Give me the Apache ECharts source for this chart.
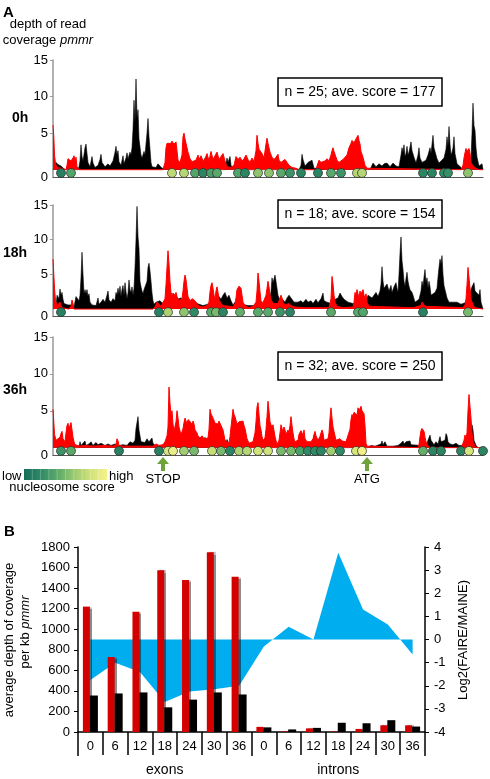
<!DOCTYPE html>
<html><head><meta charset="utf-8">
<script src="https://cdn.jsdelivr.net/npm/echarts@6/dist/echarts.min.js"></script>
<style>html,body{margin:0;padding:0;background:#fff}#c{width:490px;height:779px}</style>
</head><body><div id="c"></div>
<script>
// ---------- Panel A: read coverage tracks (position along locus, depth) ----------
const trackNames = ['0h', '18h', '36h'];
const trackStats = ['n = 25; ave. score = 177', 'n = 18; ave. score = 154', 'n = 32; ave. score = 250'];
const covTicks = [0, 5, 10, 15];

const black0h = [[0,0],[2,0.2],[3,1.0],[5,0.7],[6,0.9],[8,0.5],[10,0.3],[12,0],[25,0],[26,0.4],[27,1.2],[28,3.4],[29,1.8],[30,1.2],[32,3.0],[33,3.5],[34,2.2],[35,1.0],[37,0.4],[39,1.8],[40,0.9],[42,0.3],[45,0.6],[47,1.4],[48,2.1],[49,1.0],[52,0.4],[55,0.8],[57,0.5],[60,1.2],[62,2.4],[63,3.2],[64,2.0],[65,2.6],[66,1.1],[68,0.6],[70,1.9],[71,0.8],[73,1.6],[74,2.3],[75,1.5],[77,2.4],[78,2.0],[79,3.0],[80,5.5],[81,9.5],[82,6.5],[83,12.4],[84,7.0],[85,8.2],[86,4.2],[87,3.1],[88,2.0],[89,1.6],[91,2.5],[92,2.0],[94,5.0],[95,7.0],[96,4.5],[97,2.8],[98,1.0],[99,0.4],[101,0.6],[103,0.3],[105,0.8],[107,0.5],[109,0.2],[111,0],[150,0],[152,1.6],[153,0.4],[155,0],[172,0],[174,1.6],[175,1.0],[177,1.8],[178,0.6],[180,0],[246,0],[248,0.6],[249,2.1],[250,1.4],[252,0.5],[255,1.0],[257,0.9],[259,1.3],[261,0.2],[263,0],[316,0],[318,0.3],[320,0.9],[323,0.4],[326,0.8],[329,0.5],[331,0.8],[334,0.9],[337,0.4],[340,0.9],[343,0.5],[346,0.4],[348,2.0],[349,3.0],[350,2.4],[351,3.4],[352,1.8],[353,2.2],[354,3.2],[355,2.0],[356,2.4],[358,3.8],[359,2.6],[361,1.7],[363,0.9],[365,2.0],[366,3.0],[367,1.6],[369,1.0],[371,0.9],[373,1.3],[375,2.0],[377,3.0],[378,2.2],[380,4.7],[381,3.0],[382,2.5],[384,1.5],[386,0.9],[388,1.2],[390,1.0],[391,1.6],[393,2.8],[394,4.5],[395,3.2],[396,5.9],[397,3.5],[398,2.0],[399,2.4],[400,3.0],[401,4.5],[402,2.2],[404,0.8],[406,0.6],[408,0.3],[410,0],[417,0],[418,1.5],[419,5.0],[420,9.1],[421,6.0],[422,5.4],[423,3.0],[424,1.7],[426,0.5],[428,0.7],[429,0.8],[430,0]];
const red0h = [[0,6.1],[0.8,4.5],[1.5,2.0],[2.5,0.8],[4,0.3],[6,0.4],[9,0.2],[13,0],[14,0.6],[15,1.5],[17,1.7],[18,1.2],[20,1.6],[21,1.9],[22,1.2],[23,1.7],[24,0.4],[26,0],[110,0],[112,1.0],[113,3.0],[114,3.6],[116,3.8],[118,3.6],[119,3.9],[121,3.5],[123,3.8],[124,2.6],[125,1.3],[127,1.0],[129,2.0],[130,4.5],[131,5.0],[132,4.2],[133,3.6],[134,3.8],[135,2.4],[137,1.5],[139,1.1],[141,0.9],[143,1.3],[145,2.0],[146,1.4],[148,1.9],[150,1.2],[152,1.5],[154,2.2],[156,1.2],[158,2.5],[160,1.4],[162,1.9],[164,2.4],[166,1.4],[168,1.8],[170,2.2],[172,1.2],[174,0.4],[178,0.3],[181,0.6],[183,1.8],[185,1.4],[187,1.7],[189,1.2],[191,1.5],[193,2.0],[195,1.4],[197,1.0],[199,1.6],[201,1.1],[203,2.6],[204,4.7],[205,3.6],[206,2.8],[208,2.6],[209,2.2],[211,1.6],[213,3.5],[214,4.3],[215,3.6],[217,2.4],[219,1.7],[221,1.4],[223,1.7],[225,2.1],[226,1.3],[228,1.0],[230,1.2],[232,1.4],[234,1.0],[236,0.6],[239,0.3],[243,0.2],[246,0],[263,0],[264,0.5],[266,1.3],[268,1.0],[270,0.8],[272,1.2],[274,1.5],[276,1.2],[278,2.0],[279,2.6],[280,3.0],[281,2.5],[282,2.1],[284,1.3],[286,1.0],[288,1.2],[290,1.4],[292,1.2],[294,2.0],[296,3.0],[298,3.6],[299,4.0],[300,4.1],[301,3.7],[303,4.2],[305,4.7],[306,4.0],[307,3.5],[308,2.5],[310,1.7],[312,0.6],[314,0.2],[316,0],[408,0],[410,0.6],[411,1.6],[412,2.3],[413,2.9],[414,2.5],[416,2.9],[417,2.2],[418,1.0],[420,0.5],[423,0.2],[426,0],[430,0]];

const black18h = [[0,0],[3,0.3],[4,2.0],[5,2.2],[6,1.5],[7,2.9],[8,2.0],[9,2.4],[10,1.4],[11,0.8],[13,0.9],[15,0.6],[17,0.8],[19,0.6],[21,0.3],[23,1.8],[24,2.0],[26,1.2],[27,2.0],[28,4.5],[29,8.2],[30,5.0],[31,2.2],[32,2.8],[33,2.2],[34,2.8],[35,1.8],[36,2.2],[37,1.0],[39,0.6],[41,0.7],[43,0.5],[45,1.6],[46,0.7],[48,1.0],[50,1.4],[52,1.0],[54,2.0],[55,2.6],[56,1.3],[58,1.0],[60,1.5],[62,1.2],[63,2.4],[64,2.0],[65,3.0],[66,2.2],[67,3.3],[68,1.8],[69,2.8],[70,3.4],[71,2.0],[72,3.8],[73,2.5],[74,1.5],[75,2.3],[76,4.2],[77,2.8],[78,2.4],[79,3.2],[80,2.0],[81,3.0],[82,6.0],[83,10.0],[84,14.8],[85,10.5],[86,8.7],[87,4.0],[88,3.2],[89,2.6],[90,2.2],[91,2.8],[92,2.6],[93,3.0],[94,4.0],[95,6.0],[96,6.6],[97,5.5],[98,4.0],[99,2.3],[100,1.2],[101,0.7],[103,1.0],[105,0.8],[107,1.2],[109,0.9],[111,1.1],[113,0.7],[115,0.9],[120,1.4],[122,1.0],[124,1.4],[126,1.2],[128,1.6],[130,1.3],[132,1.0],[134,1.2],[136,0.8],[138,1.0],[140,1.2],[142,0.9],[144,1.1],[146,0.7],[148,0.9],[150,0.5],[152,0.4],[155,0.7],[157,0.5],[160,0.8],[162,1.4],[164,1.0],[166,1.8],[168,1.4],[170,2.0],[172,2.4],[174,1.6],[176,2.0],[178,1.2],[180,0.6],[182,1.0],[184,0.7],[186,0.9],[188,0.6],[190,0.8],[192,0.6],[195,0.5],[200,0.5],[202,0.7],[205,0.6],[208,0.8],[212,0.6],[216,1.0],[218,2.5],[219,4.5],[220,3.8],[222,4.9],[223,4.0],[224,3.0],[225,2.0],[227,1.2],[229,1.5],[232,1.0],[234,1.6],[236,2.0],[237,2.1],[239,1.4],[241,1.0],[243,0.8],[245,1.0],[248,1.2],[250,0.9],[253,1.4],[255,1.0],[258,1.2],[260,0.8],[263,1.4],[265,0.9],[268,1.5],[270,2.3],[271,1.2],[274,1.0],[278,0.8],[282,1.4],[285,1.6],[287,2.3],[289,1.8],[291,1.4],[293,1.6],[295,1.0],[297,0.8],[300,0.8],[302,1.0],[305,0.8],[309,0.8],[312,0.5],[314,0.6],[315,2.0],[317,2.2],[319,1.6],[321,2.0],[323,2.4],[325,1.8],[327,2.6],[328,3.6],[329,6.1],[330,4.0],[331,3.0],[332,3.2],[334,3.6],[336,2.6],[338,3.4],[339,2.4],[341,3.2],[343,3.8],[344,3.0],[345,2.4],[346,5.0],[347,8.0],[348,10.4],[349,7.0],[350,5.7],[351,4.0],[352,3.3],[353,4.4],[354,5.3],[355,4.0],[356,3.3],[357,2.8],[358,3.0],[359,2.4],[360,2.0],[362,1.0],[364,0.8],[366,1.4],[368,2.6],[369,4.0],[370,3.2],[371,4.6],[372,5.7],[373,3.8],[374,4.5],[375,3.0],[376,4.0],[377,3.2],[378,2.0],[380,1.8],[382,2.4],[384,3.0],[385,4.6],[386,6.0],[387,7.2],[388,6.5],[389,7.7],[390,5.0],[391,3.4],[392,2.8],[394,1.6],[396,1.0],[398,0.8],[400,1.0],[402,0.9],[404,1.0],[406,0.8],[408,0.7],[410,0.8],[412,0.9],[414,1.2],[416,2.0],[418,2.8],[419,3.2],[421,3.8],[422,2.6],[424,2.8],[426,2.0],[427,2.8],[428,1.0],[430,0]];
const red18h = [[0,7.2],[0.8,5.0],[1.5,3.0],[2.5,1.2],[4,0.5],[6,0.4],[7,1.0],[8,0.6],[9,0.2],[16,0],[18,0.4],[19,1.3],[20,0.8],[21,0],[100,0],[102,0.3],[104,1.0],[106,0.8],[108,0.4],[110,0.6],[112,1.5],[113,3.5],[114,6.0],[115,8.4],[116,6.5],[117,4.0],[118,2.4],[119,2.0],[120,2.3],[122,2.0],[123,2.4],[124,1.8],[126,1.2],[128,1.0],[129,1.5],[130,2.6],[131,4.0],[132,4.9],[133,4.2],[134,3.0],[135,1.8],[137,1.2],[139,1.5],[140,1.3],[142,1.2],[144,1.0],[146,0.4],[150,0.3],[154,0.5],[156,1.0],[157,2.5],[158,3.4],[159,3.8],[160,3.0],[161,2.0],[162,1.4],[163,2.6],[164,3.2],[165,2.4],[166,1.4],[168,0.8],[170,0.5],[172,0.4],[176,0.4],[180,0.3],[182,0.8],[183,1.6],[184,2.8],[186,3.3],[187,3.5],[188,3.0],[189,2.0],[190,1.0],[192,0.5],[194,0.4],[196,0.2],[200,0.4],[203,1.0],[204,2.6],[205,5.2],[206,4.0],[207,2.5],[208,1.2],[210,0.9],[212,1.0],[213,2.0],[214,3.0],[215,4.0],[216,3.2],[217,2.0],[218,1.4],[220,0.8],[222,0.6],[225,0.8],[226,1.2],[228,2.0],[229,1.6],[230,1.0],[232,0.6],[234,0.4],[236,0.8],[238,0.5],[242,0.3],[250,0.2],[260,0.2],[276,0.2],[277,0.4],[278,1.5],[279,4.7],[280,3.6],[281,2.0],[282,1.0],[284,0.4],[290,0.2],[300,0.3],[301,1.0],[302,2.4],[303,2.0],[304,2.8],[305,2.2],[306,1.6],[307,2.6],[308,2.0],[309,2.5],[310,2.8],[311,2.0],[312,1.6],[313,2.2],[314,1.0],[316,0.4],[318,0.2],[360,0.2],[368,0.5],[369,1.0],[370,1.2],[371,0.8],[372,0.4],[410,0.2],[412,0.6],[413,1.5],[414,3.5],[415,6.0],[416,4.5],[417,3.0],[418,1.4],[420,0.6],[422,0.2],[430,0]];

const black36h = [[0,0],[3,0.2],[4,1.0],[5,0.6],[6,1.2],[7,0.4],[10,0],[26,0],[27,0.8],[28,0.3],[30,0.6],[32,0.9],[33,0.3],[36,0.5],[38,0.8],[40,0.3],[43,0.7],[45,0.4],[48,0.6],[52,0.3],[55,0.5],[58,0.3],[62,0.5],[66,0.3],[70,0.4],[72,0.6],[74,0.3],[77,0.8],[79,1.0],[80,0.6],[82,1.0],[83,2.6],[84,3.4],[85,4.2],[86,2.4],[87,1.6],[88,0.8],[90,0.9],[92,0.7],[94,1.2],[96,0.8],[98,1.0],[99,1.3],[100,0.6],[102,0.3],[105,0.2],[110,0],[148,0.2],[150,1.0],[152,1.4],[154,0.6],[156,0],[172,0.2],[174,1.1],[176,0.5],[178,0],[298,0],[299,1.0],[301,3.5],[302,4.4],[303,3.8],[305,4.2],[306,2.0],[308,0],[315,0],[318,0.3],[322,0.2],[328,0.5],[329,0.9],[330,0.4],[332,0.8],[334,0.2],[340,0.2],[345,0.3],[348,0.6],[350,0.9],[351,0.5],[353,0.8],[355,0.6],[357,0.9],[358,0.4],[360,0.2],[368,0.3],[373,0.3],[375,0.5],[377,1.7],[378,1.0],[380,1.2],[381,0.4],[383,0.8],[385,0.5],[387,1.5],[388,0.8],[390,0.6],[392,1.0],[393,1.9],[394,1.6],[395,0.8],[397,0.5],[400,0.4],[403,0.6],[406,0.3],[416,0.3],[418,2.0],[419,3.1],[420,2.4],[421,1.0],[423,0.3],[425,0]];
const red36h = [[0,5.2],[0.8,3.5],[1.5,1.8],[3,1.0],[5,0.8],[7,1.4],[8,1.9],[9,2.2],[10,1.2],[12,0.8],[13,2.0],[14,3.0],[15,3.3],[16,2.6],[17,3.0],[18,3.4],[19,2.4],[20,1.4],[21,0.8],[22,0.4],[24,0.3],[27,0.2],[30,0.3],[40,0.2],[50,0.3],[60,0.2],[63,0.4],[64,1.2],[65,0.9],[66,0.3],[70,0.2],[80,0.2],[100,0.2],[103,0.5],[106,0.3],[110,0.4],[112,0.8],[113,1.2],[114,1.6],[115,2.8],[116,8.2],[117,6.0],[118,4.5],[119,5.0],[120,3.2],[121,2.2],[122,2.0],[123,3.5],[124,5.0],[125,4.0],[126,2.8],[128,1.7],[129,1.5],[130,2.6],[131,3.4],[132,4.0],[133,3.6],[134,3.2],[135,3.8],[136,4.0],[137,3.6],[138,3.4],[139,3.0],[140,3.6],[141,3.2],[142,2.4],[144,2.0],[145,1.6],[147,1.3],[149,1.6],[151,1.2],[153,1.0],[155,1.3],[156,2.5],[157,5.2],[158,4.6],[160,4.0],[161,3.7],[162,3.3],[164,3.5],[165,3.2],[166,3.6],[167,3.4],[168,3.0],[170,2.4],[172,1.0],[174,0.8],[176,0.6],[177,1.5],[178,2.8],[179,4.0],[180,5.2],[181,4.5],[182,4.2],[184,3.2],[186,3.5],[188,3.4],[190,3.6],[191,3.0],[192,2.6],[194,1.2],[196,0.6],[198,0.5],[200,0.8],[202,2.0],[203,3.5],[204,5.5],[205,6.1],[206,4.5],[207,3.0],[208,2.4],[209,1.5],[210,1.0],[212,1.3],[213,2.5],[214,4.2],[215,6.3],[216,5.0],[217,3.5],[218,3.1],[219,2.8],[220,3.1],[222,1.5],[224,0.4],[226,1.0],[227,2.0],[228,3.1],[229,2.6],[230,2.2],[231,2.8],[232,2.4],[233,1.8],[235,2.4],[236,2.0],[237,3.0],[238,4.2],[239,3.0],[240,2.0],[241,1.2],[242,0.8],[244,0.6],[245,1.0],[246,1.8],[247,2.0],[248,2.3],[249,2.0],[250,1.6],[251,2.4],[252,1.2],[254,0.8],[256,0.6],[258,0.8],[260,1.2],[261,1.8],[262,2.2],[263,1.6],[265,1.0],[267,1.5],[268,2.0],[269,2.4],[270,2.0],[271,1.0],[273,0.8],[275,1.2],[276,2.0],[277,4.0],[278,5.4],[279,4.0],[280,2.8],[281,2.2],[282,1.6],[283,1.0],[285,0.8],[287,1.2],[289,0.9],[291,1.0],[293,0.8],[295,1.0],[297,2.5],[298,3.8],[299,4.5],[300,4.2],[301,4.8],[302,4.6],[303,5.0],[304,4.4],[305,5.4],[306,5.0],[308,5.6],[309,5.0],[310,5.0],[311,4.6],[312,3.0],[313,0.6],[314,0.2],[316,0],[365,0],[366,0.4],[367,1.5],[368,2.3],[369,2.6],[370,2.4],[371,2.2],[372,1.4],[373,0.8],[375,0.3],[376,0],[408,0],[410,0.6],[411,1.0],[412,1.7],[413,1.2],[414,2.0],[415,5.0],[416,7.2],[417,5.5],[418,4.0],[419,2.0],[420,1.0],[421,0.5],[423,0],[430,0]];

// nucleosomes: [position, nucleosome score]
const nuc0h = [[8,90],[18,160],[119,270],[131,260],[142,160],[150,100],[158,150],[164,170],[185,160],[192,100],[205,220],[216,220],[228,170],[237,130],[248,100],[265,100],[278,170],[288,130],[304,260],[309,260],[370,100],[379,100],[391,110],[395,120],[415,220]];
const nuc18h = [[8,90],[106,90],[115,250],[131,220],[141,110],[158,170],[163,200],[170,100],[187,180],[205,170],[215,170],[227,130],[237,100],[278,170],[305,170],[310,160],[370,90],[415,200]];
const nuc36h = [[8,130],[18,170],[66,90],[106,90],[115,300],[120,330],[131,240],[141,200],[159,280],[168,200],[177,100],[186,250],[194,260],[205,290],[215,290],[228,200],[238,200],[247,150],[255,110],[262,110],[268,100],[278,240],[287,110],[303,300],[309,340],[370,180],[380,100],[388,100],[408,100],[416,300],[430,100]];
const landmarks = [['STOP', 110], ['ATG', 314]];
const scoreRange = [50, 350];
const scoreColors = ['#166d5b', '#2f8a65', '#5aa96b', '#98c96f', '#d0e27a', '#f6f38a'];

// ---------- Panel B ----------
const timepoints = ['0', '6', '12', '18', '24', '30', '36'];
const regions = ['exons', 'introns'];
const redCoverage   = [1220, 730, 1170, 1575, 1480, 1750, 1510, 50, 5, 35, 5, 30, 65, 65];
const blackCoverage = [355, 375, 385, 240, 315, 385, 365, 45, 25, 40, 90, 85, 115, 53];
const log2Ratio     = [-1.75, -1.0, -1.4, -2.7, -2.25, -2.15, -2.0, -0.3, 0.55, 0.0, 3.75, 1.3, 0.65, -0.65];

const FONT = 'Liberation Sans, Arial, Helvetica, sans-serif';
const chart = echarts.init(document.getElementById('c'), null, {renderer: 'canvas'});

const trackBlack = [black0h, black18h, black36h];
const trackRed = [red0h, red18h, red36h];
const trackNuc = [nuc0h, nuc18h, nuc36h];
const trackGrids = [{top: 60, height: 117}, {top: 205, height: 111}, {top: 337, height: 118}];

const grids = [], xAxes = [], yAxes = [], series = [];
trackGrids.forEach((g, i) => {
  grids.push({left: 53, width: 430, top: g.top, height: g.height});
  xAxes.push({type: 'value', gridIndex: i, min: 0, max: 430,
    axisLine: {show: true, onZero: false, lineStyle: {color: '#555', width: 1.2}},
    axisTick: {show: false}, axisLabel: {show: false}, splitLine: {show: false}});
  yAxes.push({type: 'value', gridIndex: i, min: -1, max: 15, interval: 1,
    axisLine: {show: true, lineStyle: {color: '#999', width: 1.5}},
    axisTick: {show: true, length: 3, lineStyle: {color: '#999'}, customValues: [5, 10, 15]},
    axisLabel: {customValues: [-1, 5, 10, 15], formatter: v => v === -1 ? String(covTicks[0]) : String(v),
      fontFamily: FONT, fontSize: 13, color: '#000', margin: 5},
    splitLine: {show: false}});
  series.push({type: 'line', xAxisIndex: i, yAxisIndex: i, data: trackBlack[i], symbol: 'none',
    lineStyle: {color: '#000', width: 0.6}, areaStyle: {color: '#000', opacity: 1}, z: 2, silent: true});
  series.push({type: 'line', xAxisIndex: i, yAxisIndex: i, data: trackRed[i], symbol: 'none',
    lineStyle: {color: '#ff0000', width: 1}, areaStyle: {color: '#ff0000', opacity: 1}, z: 3, silent: true});
  series.push({type: 'scatter', xAxisIndex: i, yAxisIndex: i, data: trackNuc[i].map(d => [d[0], -0.45, d[1]]),
    symbolSize: 9, itemStyle: {borderColor: '#2a2a2a', borderWidth: 0.7, opacity: 1}, z: 5});
});
const nucSeriesIdx = [2, 5, 8];

// Panel B
const bGrid = 3;
grids.push({left: 78, width: 347, top: 547, height: 185});
const cats = [];
regions.forEach(r => timepoints.forEach(t => cats.push(r + '|' + t)));
xAxes.push({type: 'category', gridIndex: bGrid, data: cats, boundaryGap: true,
  axisLine: {show: true, onZero: false, lineStyle: {color: '#000', width: 1.5}},
  axisTick: {show: true, length: 23, alignWithLabel: false, lineStyle: {color: '#000', width: 1.5}},
  axisLabel: {formatter: v => v.split('|')[1], fontFamily: FONT, fontSize: 13, color: '#000', margin: 8}});
xAxes.push({type: 'category', gridIndex: bGrid, data: regions, position: 'bottom', offset: 23,
  axisLine: {show: false},
  axisTick: {show: true, length: 24, alignWithLabel: false, lineStyle: {color: '#000', width: 1.5}},
  axisLabel: {fontFamily: FONT, fontSize: 14, color: '#000', margin: 8}});
yAxes.push({type: 'value', gridIndex: bGrid, min: 0, max: 1800, interval: 200, position: 'left',
  axisLine: {show: true, lineStyle: {color: '#000', width: 1.5}},
  axisTick: {show: true, length: 4, lineStyle: {color: '#000'}},
  axisLabel: {formatter: v => String(v), fontFamily: FONT, fontSize: 13, color: '#000', margin: 8}, splitLine: {show: false}});
yAxes.push({type: 'value', gridIndex: bGrid, min: -4, max: 4, interval: 1, position: 'right',
  axisLine: {show: true, lineStyle: {color: '#000', width: 1.5}},
  axisTick: {show: true, length: 4, lineStyle: {color: '#000'}},
  axisLabel: {formatter: v => String(v), fontFamily: FONT, fontSize: 13, color: '#000', margin: 9}, splitLine: {show: false}});
series.push({type: 'line', xAxisIndex: 3, yAxisIndex: 4, data: log2Ratio, symbol: 'none',
  lineStyle: {width: 0}, areaStyle: {color: '#00aeef', opacity: 1, origin: 0}, z: 1, silent: true});
series.push({type: 'bar', xAxisIndex: 3, yAxisIndex: 3, data: redCoverage, barWidth: 7, barGap: '0%',
  itemStyle: {color: '#d40000', shadowColor: 'rgba(0,0,0,0.45)', shadowOffsetX: 2, shadowBlur: 1}, z: 3});
series.push({type: 'bar', xAxisIndex: 3, yAxisIndex: 3, data: blackCoverage, barWidth: 8, barGap: '0%',
  itemStyle: {color: '#000'}, z: 4});

const T = (x, y, text, extra) => ({type: 'text', x, y, z: 50,
  style: Object.assign({text, fontFamily: FONT, fontSize: 13, fill: '#000'}, extra || {})});

const graphics = [
  T(3, 5, 'A', {fontSize: 15, fontWeight: 'bold'}),
  T(48, 24, 'depth of read', {align: 'center', verticalAlign: 'middle'}),
  T(48, 40, 'coverage {i|pmmr}', {align: 'center', verticalAlign: 'middle', rich: {i: {fontStyle: 'italic', fontFamily: FONT, fontSize: 13}}}),
  T(4, 532, 'B', {fontSize: 15, fontWeight: 'bold', verticalAlign: 'middle'}),
  // colour scale for nucleosome score
  {type: 'rect', z: 50, shape: {x: 24, y: 469, width: 83, height: 11},
    style: {fill: new echarts.graphic.LinearGradient(0, 0, 1, 0,
      scoreColors.map((c, k) => ({offset: k / (scoreColors.length - 1), color: c})))}},
  T(2, 476, 'low', {verticalAlign: 'middle'}),
  T(109, 476, 'high', {verticalAlign: 'middle'}),
  T(62, 487, 'nucleosome score', {align: 'center', verticalAlign: 'middle'}),
  {type: 'text', x: 9, y: 640, rotation: Math.PI / 2, z: 50,
    style: {text: 'average depth of coverage', fontFamily: FONT, fontSize: 13, fill: '#000', align: 'center', verticalAlign: 'middle'}},
  {type: 'text', x: 25, y: 632, rotation: Math.PI / 2, z: 50,
    style: {text: 'per kb {i|pmmr}', fontFamily: FONT, fontSize: 13, fill: '#000', align: 'center', verticalAlign: 'middle',
      rich: {i: {fontStyle: 'italic', fontFamily: FONT, fontSize: 13}}}},
  {type: 'text', x: 463, y: 640, rotation: Math.PI / 2, z: 50,
    style: {text: 'Log2(FAIRE/MAINE)', fontFamily: FONT, fontSize: 13, fill: '#000', align: 'center', verticalAlign: 'middle'}}
];
// thin segment dividers on the colour scale
for (let k = 1; k < 10; k++) {
  graphics.push({type: 'line', z: 51, shape: {x1: 24 + k * 8.3, y1: 469, x2: 24 + k * 8.3, y2: 480},
    style: {stroke: 'rgba(255,255,255,0.25)', lineWidth: 1}});
}
const nameY = [118, 253, 390], nameX = [12, 3, 3];
const boxY = [78, 200, 352];
trackNames.forEach((n, i) => {
  graphics.push(T(nameX[i], nameY[i], n, {fontWeight: 'bold', fontSize: 14, verticalAlign: 'middle'}));
  graphics.push({type: 'rect', shape: {x: 278, y: boxY[i], width: 164, height: 28}, z: 49,
    style: {fill: '#fff', stroke: '#000', lineWidth: 1.5}});
  graphics.push(T(360, boxY[i] + 14, trackStats[i], {fontSize: 14, align: 'center', verticalAlign: 'middle'}));
});

chart.setOption({
  animation: false,
  backgroundColor: '#fff',
  grid: grids, xAxis: xAxes, yAxis: yAxes, series,
  visualMap: [{type: 'continuous', show: false, seriesIndex: nucSeriesIdx, dimension: 2,
    min: scoreRange[0], max: scoreRange[1], inRange: {color: scoreColors}}],
  graphic: graphics
});

// landmark arrows (STOP / ATG) placed via the 36h track's axis scale
const extra = [];
landmarks.forEach(([name, pos]) => {
  const p = chart.convertToPixel({xAxisIndex: 2, yAxisIndex: 2}, [pos, -1]);
  const x = p[0], y = p[1] + 2;
  extra.push({type: 'polygon', z: 60, shape: {points: [[x, y], [x - 6, y + 7], [x - 2, y + 7], [x - 2, y + 14], [x + 2, y + 14], [x + 2, y + 7], [x + 6, y + 7]]},
    style: {fill: '#6fa33a'}});
  extra.push(T(x, y + 22, name, {align: 'center', verticalAlign: 'middle'}));
});
chart.setOption({graphic: graphics.concat(extra)});
</script></body></html>
